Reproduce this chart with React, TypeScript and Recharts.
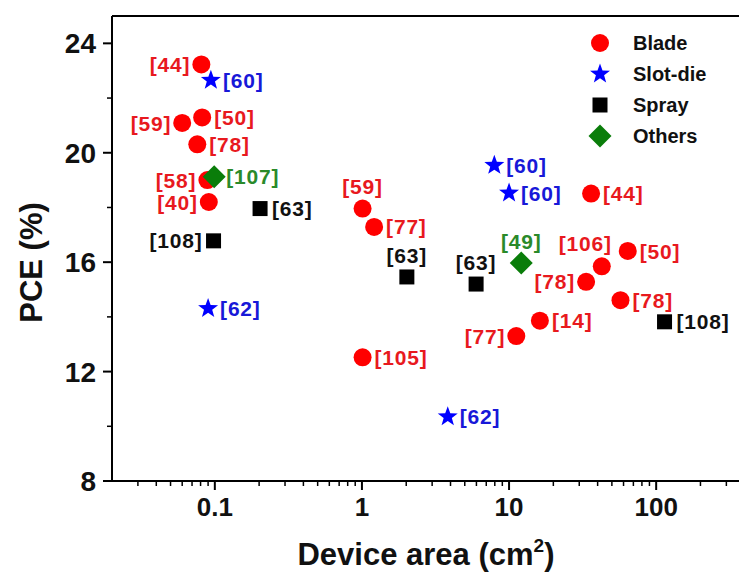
import { ScatterChart, Scatter, XAxis, YAxis, ReferenceLine, Legend } from "recharts";

// values (area in cm², PCE in %)
const seriesNames = ["Blade", "Slot-die", "Spray", "Others"];

const bladeArea = [0.081, 0.06, 0.082, 0.076, 0.089, 0.091, 1.01, 1.21, 1.01, 11.2, 16.2, 33.4, 42.7, 36.1, 64.1, 57.2];
const bladePce = [23.23, 21.09, 21.29, 20.31, 19.0, 18.2, 17.96, 17.29, 12.52, 13.3, 13.86, 15.28, 15.85, 18.51, 16.41, 14.61];
const bladeRefs = ["[44]", "[59]", "[50]", "[78]", "[58]", "[40]", "[59]", "[77]", "[105]", "[77]", "[14]", "[78]", "[106]", "[44]", "[50]", "[78]"];
const bladeSides = ["left", "left", "right", "right", "left", "left", "top", "right", "right", "left", "right", "left", "topLeft", "right", "right", "right"];

const slotArea = [0.094, 0.09, 7.94, 10.0, 3.83];
const slotPce = [22.65, 14.31, 19.54, 18.53, 10.35];
const slotRefs = ["[60]", "[62]", "[60]", "[60]", "[62]"];
const slotSides = ["right", "right", "right", "right", "right"];

const sprayArea = [0.203, 0.098, 2.02, 5.97, 114];
const sprayPce = [17.96, 16.78, 15.46, 15.2, 13.82];
const sprayRefs = ["[63]", "[108]", "[63]", "[63]", "[108]"];
const spraySides = ["right", "left", "top", "top", "right"];

const otherArea = [0.099, 12.1];
const otherPce = [19.12, 15.97];
const otherRefs = ["[107]", "[49]"];
const otherSides = ["right", "top"];

const xTicks = [
  0.03, 0.04, 0.05, 0.06, 0.07, 0.08, 0.09,
  0.1, 0.2, 0.3, 0.4, 0.5, 0.6, 0.7, 0.8, 0.9,
  1, 2, 3, 4, 5, 6, 7, 8, 9,
  10, 20, 30, 40, 50, 60, 70, 80, 90,
  100, 200, 300, 400,
];
const xLabels = [0.1, 1, 10, 100];
const yTicks = [8, 10, 12, 14, 16, 18, 20, 22, 24];
const yLabels = [8, 12, 16, 20, 24];

const FONT = '"Liberation Sans", Arial, Helvetica, sans-serif';

const colors = {
  circle: { fill: "#ff0000", text: "#e8191e" },
  star: { fill: "#0000ff", text: "#1818d8" },
  square: { fill: "#000000", text: "#111111" },
  diamond: { fill: "#0a7d0a", text: "#2a8a2a" },
};

const rows = (xs: number[], ys: number[], refs: string[], sides: string[]) =>
  xs.map((x, i) => ({ x, y: ys[i], ref: refs[i], side: sides[i] }));

const bladeData = rows(bladeArea, bladePce, bladeRefs, bladeSides);
const slotData = rows(slotArea, slotPce, slotRefs, slotSides);
const sprayData = rows(sprayArea, sprayPce, sprayRefs, spraySides);
const otherData = rows(otherArea, otherPce, otherRefs, otherSides);

function starPath(cx: number, cy: number, r: number, ri: number) {
  let d = "";
  for (let i = 0; i < 10; i++) {
    const rad = i % 2 === 0 ? r : ri;
    const a = -Math.PI / 2 + (i * Math.PI) / 5;
    d += (i === 0 ? "M" : "L") + (cx + rad * Math.cos(a)).toFixed(2) + "," + (cy + rad * Math.sin(a)).toFixed(2);
  }
  return d + "Z";
}

const Marker = ({ kind, cx, cy }: { kind: string; cx: number; cy: number }) => {
  const fill = (colors as any)[kind].fill;
  if (kind === "circle") return <circle cx={cx} cy={cy} r={9} fill={fill} />;
  if (kind === "star") return <path d={starPath(cx, cy, 10.5, 4.3)} fill={fill} />;
  if (kind === "square") return <rect x={cx - 7.5} y={cy - 7.5} width={15} height={15} fill={fill} />;
  return <path d={`M${cx},${cy - 11.5}L${cx + 11.5},${cy}L${cx},${cy + 11.5}L${cx - 11.5},${cy}Z`} fill={fill} />;
};

const makeShape = (kind: string) => (props: any) => {
  const { cx, cy, payload } = props;
  const side = payload.side;
  let tx = cx + 12;
  let ty = cy;
  let anchor = "start";
  if (side === "left") {
    tx = cx - 11;
    anchor = "end";
  } else if (side === "top") {
    tx = cx;
    ty = cy - 22;
    anchor = "middle";
  } else if (side === "topLeft") {
    tx = cx + 10;
    ty = cy - 23;
    anchor = "end";
  }
  return (
    <g>
      <Marker kind={kind} cx={cx} cy={cy} />
      <text
        x={tx}
        y={ty}
        dy="0.36em"
        textAnchor={anchor}
        fontFamily={FONT}
        fontWeight="bold"
        fontSize={21}
        letterSpacing={0.8}
        fill={(colors as any)[kind].text}
      >
        {payload.ref}
      </text>
    </g>
  );
};

const XTick = ({ x, y, payload }: any) => {
  const v = payload.value;
  const major = xLabels.some((m) => Math.abs(m - v) / m < 1e-6);
  return (
    <g>
      <line x1={x} x2={x} y1={y} y2={y + (major ? 9 : 5)} stroke="#000" strokeWidth={major ? 2 : 1.5} />
      {major && (
        <text x={x} y={y + 35} textAnchor="middle" fontFamily={FONT} fontWeight="bold" fontSize={26} fill="#111">
          {String(v)}
        </text>
      )}
    </g>
  );
};

const YTick = ({ x, y, payload }: any) => {
  const v = payload.value;
  const major = yLabels.includes(v);
  return (
    <g>
      <line x1={x} x2={x - (major ? 9 : 5)} y1={y} y2={y} stroke="#000" strokeWidth={major ? 2 : 1.5} />
      {major && (
        <text x={x - 16} y={y} dy="0.36em" textAnchor="end" fontFamily={FONT} fontWeight="bold" fontSize={28} fill="#111">
          {v}
        </text>
      )}
    </g>
  );
};

const legendKinds = ["circle", "star", "square", "diamond"];

const LegendBox = () => (
  <svg width={160} height={135}>
    {seriesNames.map((name, i) => (
      <g key={name}>
        <Marker kind={legendKinds[i]} cx={20} cy={21 + i * 31} />
        <text x={53} y={21 + i * 31} dy="0.36em" fontFamily={FONT} fontWeight="bold" fontSize={20} fill="#111">
          {name}
        </text>
      </g>
    ))}
  </svg>
);

const XTitle = ({ viewBox }: any) => (
  <text x={viewBox.x + 314} y={viewBox.y + 84} textAnchor="middle" fontFamily={FONT} fontWeight="bold" fontSize={31} fill="#111">
    Device area (cm
    <tspan dy={-13} fontSize={19}>2</tspan>
    <tspan dy={13}>)</tspan>
  </text>
);

const YTitle = ({ viewBox }: any) => {
  const cx = 31;
  const cy = viewBox.y + viewBox.height / 2 + 14;
  return (
    <text
      x={cx}
      y={cy}
      dy="0.36em"
      transform={`rotate(-90, ${cx}, ${cy})`}
      textAnchor="middle"
      fontFamily={FONT}
      fontWeight="bold"
      fontSize={31}
      fill="#111"
    >
      PCE (%)
    </text>
  );
};

export default function App() {
  return (
    <div style={{ position: "fixed", left: 0, top: 0, width: 739, height: 574, overflow: "hidden", background: "#fff" }}>
      <ScatterChart width={780} height={574} margin={{ top: 16, right: 21, bottom: 0, left: 0 }}>
        <XAxis
          dataKey="x"
          type="number"
          scale="log"
          domain={[0.02, 500]}
          allowDataOverflow
          ticks={xTicks}
          interval={0}
          height={93}
          tickSize={0}
          tickMargin={0}
          tickLine={false}
          tick={<XTick />}
          axisLine={{ stroke: "#000", strokeWidth: 2 }}
          label={<XTitle />}
        />
        <YAxis
          dataKey="y"
          type="number"
          domain={[8, 25]}
          allowDataOverflow
          ticks={yTicks}
          interval={0}
          width={112}
          tickSize={0}
          tickMargin={0}
          tickLine={false}
          tick={<YTick />}
          axisLine={{ stroke: "#000", strokeWidth: 2 }}
          label={<YTitle />}
        />
        <ReferenceLine y={25} stroke="#000" strokeWidth={2} />
        <ReferenceLine x={500} stroke="#000" strokeWidth={2} />
        <Legend
          layout="horizontal"
          verticalAlign="middle"
          align="center"
          content={() => <LegendBox />}
          wrapperStyle={{ left: 580, top: 22, width: 160, height: 135 }}
        />
        <Scatter name={seriesNames[0]} data={bladeData} shape={makeShape("circle")} isAnimationActive={false} />
        <Scatter name={seriesNames[1]} data={slotData} shape={makeShape("star")} isAnimationActive={false} />
        <Scatter name={seriesNames[2]} data={sprayData} shape={makeShape("square")} isAnimationActive={false} />
        <Scatter name={seriesNames[3]} data={otherData} shape={makeShape("diamond")} isAnimationActive={false} />
      </ScatterChart>
    </div>
  );
}
